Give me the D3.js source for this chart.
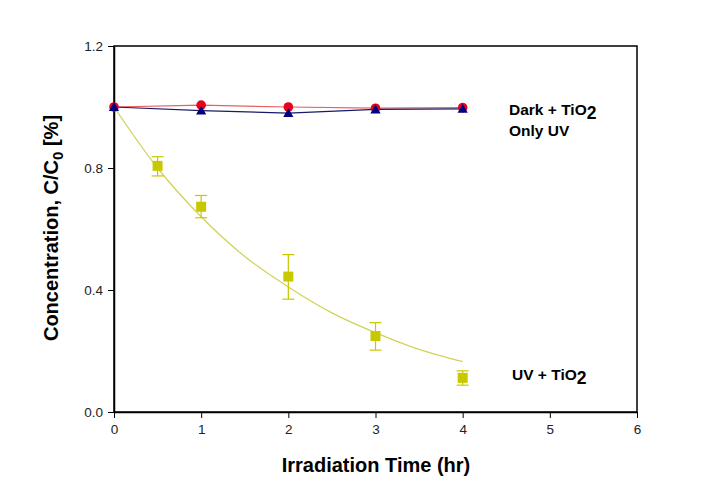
<!DOCTYPE html>
<html><head><meta charset="utf-8">
<script src="https://cdn.jsdelivr.net/npm/d3@7"></script>
<style>body{margin:0;background:#fff}svg{display:block}text{font-family:Arial,"Liberation Sans",sans-serif}</style>
</head><body>
<svg id="c" width="726" height="488"></svg>
<script>
const xTicks = [0,1,2,3,4,5,6];
const yTicks = [0.0,0.4,0.8,1.2];
const darkT = [0,1,2,3,4];
const darkV = [1.0,1.006,1.0,0.996,0.998];
const uvT = [0,1,2,3,4];
const uvV = [1.0,0.988,0.98,0.992,0.994];
const tioT = [0.5,1,2,3,4];
const tioV = [0.807,0.673,0.444,0.249,0.112];
const tioHi = [0.837,0.71,0.516,0.293,0.135];
const tioLo = [0.774,0.637,0.37,0.203,0.088];
const fitT = [0,0.5,1,1.5,2,2.5,3,3.5,4];
const fitV = [1.0,0.80,0.64,0.51,0.41,0.325,0.26,0.205,0.165];

const svg = d3.select('#c');
const x = d3.scaleLinear().domain([0,6]).range([114,637]);
const y = d3.scaleLinear().domain([0,1.2]).range([412,46]);

svg.append('rect').attr('x',114).attr('y',46).attr('width',523).attr('height',366)
  .attr('fill','none').attr('stroke','#000').attr('stroke-width',1.5);

const xa = svg.append('g').attr('transform','translate(0,412)')
  .call(d3.axisBottom(x).tickValues(xTicks).tickFormat(d3.format('d')).tickSize(6).tickSizeOuter(0));
const ya = svg.append('g').attr('transform','translate(114,0)')
  .call(d3.axisLeft(y).tickValues(yTicks).tickFormat(d3.format('.1f')).tickSize(6).tickSizeOuter(0));
[xa,ya].forEach(g=>{
  g.select('.domain').attr('stroke','#000').attr('stroke-width',1.5);
  g.selectAll('.tick line').attr('stroke','#000').attr('stroke-width',1);
  g.selectAll('.tick text').attr('font-size',13.5).attr('fill','#222').style('font-family','Arial,"Liberation Sans",sans-serif');
});
xa.selectAll('.tick text').attr('dy','0.95em');
ya.selectAll('.tick text').attr('x',-11);

const line = d3.line().x(d=>x(d[0])).y(d=>y(d[1]));
svg.append('path').datum(fitT.map((t,i)=>[t,fitV[i]]))
  .attr('d', line.curve(d3.curveMonotoneX)).attr('fill','none').attr('stroke','#d2d25a').attr('stroke-width',1.3);

const eb = svg.append('g').attr('stroke','#c8c800').attr('stroke-width',1.2);
tioT.forEach((t,i)=>{
  const cx = x(t);
  eb.append('line').attr('x1',cx).attr('x2',cx).attr('y1',y(tioHi[i])).attr('y2',y(tioLo[i]));
  eb.append('line').attr('x1',cx-6).attr('x2',cx+6).attr('y1',y(tioHi[i])).attr('y2',y(tioHi[i]));
  eb.append('line').attr('x1',cx-6).attr('x2',cx+6).attr('y1',y(tioLo[i])).attr('y2',y(tioLo[i]));
});
svg.append('g').selectAll('rect').data(tioT.map((t,i)=>[t,tioV[i]])).join('rect')
  .attr('x',d=>x(d[0])-5).attr('y',d=>y(d[1])-5).attr('width',10).attr('height',10).attr('fill','#c8c800');

const line2 = d3.line().x(d=>x(d[0])).y(d=>y(d[1]));
svg.append('path').datum(darkT.map((t,i)=>[t,darkV[i]]))
  .attr('d',line2).attr('fill','none').attr('stroke','#e86060').attr('stroke-width',1.2);
svg.append('path').datum(uvT.map((t,i)=>[t,uvV[i]]))
  .attr('d',line2).attr('fill','none').attr('stroke','#1a1a6a').attr('stroke-width',1.2);
svg.append('g').selectAll('circle').data(darkT.map((t,i)=>[t,darkV[i]])).join('circle')
  .attr('cx',d=>x(d[0])).attr('cy',d=>y(d[1])).attr('r',4.8).attr('fill','#e8001c');
const tri = d3.symbol().type(d3.symbolTriangle).size(45);
svg.append('g').selectAll('path').data(uvT.map((t,i)=>[t,uvV[i]])).join('path')
  .attr('transform',d=>`translate(${x(d[0])},${y(d[1])+1})`).attr('d',tri).attr('fill','#000080');

function lab(tx,ty,main,sub){
  const t = svg.append('text').attr('x',tx).attr('y',ty).attr('font-size',15.5).attr('font-weight','bold').attr('fill','#000');
  t.append('tspan').text(main);
  if (sub) t.append('tspan').attr('dy',4).attr('font-size',17.5).text(sub);
}
lab(509,115,'Dark + TiO','2');
lab(509,136,'Only UV');
lab(512,380,'UV + TiO','2');

svg.append('text').attr('x',376).attr('y',472).attr('text-anchor','middle')
  .attr('font-size',20).attr('font-weight','bold').text('Irradiation Time (hr)');
const yt = svg.append('text').attr('transform','translate(58,228) rotate(-90)').attr('text-anchor','middle')
  .attr('font-size',20).attr('font-weight','bold');
yt.append('tspan').text('Concentration, C/C');
yt.append('tspan').attr('dy',5).attr('font-size',15).text('0');
yt.append('tspan').attr('dy',-5).text(' [%]');
</script>
</body></html>
